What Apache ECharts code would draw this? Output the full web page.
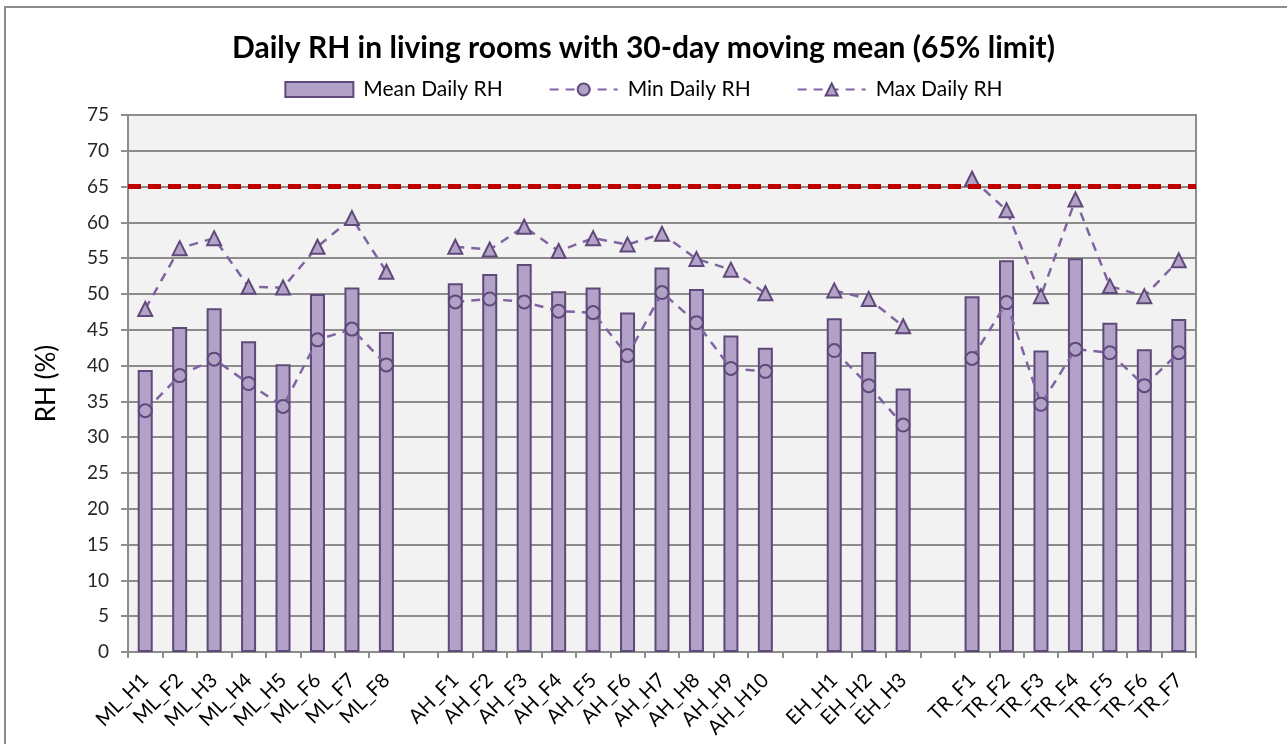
<!DOCTYPE html>
<html>
<head>
<meta charset="utf-8">
<script src="https://cdn.jsdelivr.net/npm/echarts@6/dist/echarts.min.js"></script>
<style>
  html, body { margin: 0; padding: 0; background: #fff; }
  #chart { width: 1287px; height: 744px; }
</style>
</head>
<body>
<div id="chart"></div>
<script>
// Daily RH per living room, grouped by site; blank categories separate groups.
const CATEGORIES = [
  "ML_H1", "ML_F2", "ML_H3", "ML_H4", "ML_H5", "ML_F6", "ML_F7", "ML_F8", "",
  "AH_F1", "AH_F2", "AH_F3", "AH_F4", "AH_F5", "AH_F6", "AH_H7", "AH_H8", "AH_H9", "AH_H10", "",
  "EH_H1", "EH_H2", "EH_H3", "",
  "TR_F1", "TR_F2", "TR_F3", "TR_F4", "TR_F5", "TR_F6", "TR_F7",
];

const MEAN_RH = [
  39.4, 45.4, 48.0, 43.4, 40.2, 50.0, 50.9, 44.7, "-",
  51.5, 52.8, 54.2, 50.4, 50.9, 47.4, 53.7, 50.7, 44.2, 42.5, "-",
  46.6, 41.9, 36.8, "-",
  49.7, 54.7, 42.1, 55.0, 46.0, 42.3, 46.5,
];

const MIN_RH = [
  33.7, 38.6, 40.9, 37.5, 34.3, 43.6, 45.1, 40.1, "-",
  48.9, 49.3, 48.9, 47.6, 47.4, 41.4, 50.2, 46.0, 39.6, 39.2, "-",
  42.1, 37.2, 31.7, "-",
  41.0, 48.8, 34.6, 42.3, 41.8, 37.2, 41.8,
];

const MAX_RH = [
  47.9, 56.4, 57.8, 51.0, 50.9, 56.6, 60.6, 53.1, "-",
  56.6, 56.2, 59.4, 56.0, 57.8, 56.9, 58.4, 54.9, 53.4, 50.1, "-",
  50.5, 49.3, 45.5, "-",
  66.1, 61.7, 49.7, 63.2, 51.1, 49.7, 54.7,
];

const LIMIT = 65;

const FONT = "Lato, 'Open Sans', sans-serif";
const BAR_FILL = "#b3a2c7";
const MARK_EDGE = "#5f497a";
const LINE_COLOR = "#8064a2";
const FRAME = "#8c8c8c";

const chart = echarts.init(document.getElementById("chart"), null, { renderer: "canvas" });

chart.setOption({
  animation: false,
  backgroundColor: "#ffffff",
  textStyle: { fontFamily: FONT, color: "#404040" },
  title: {
    text: "Daily RH in living rooms with 30-day moving mean (65% limit)",
    left: "center",
    top: 28,
    textStyle: { fontFamily: FONT, fontSize: 30, fontWeight: "bold", color: "#000" },
  },
  legend: {
    top: 74,
    left: "center",
    itemGap: 46,
    itemWidth: 68,
    itemHeight: 15,
    textStyle: { fontFamily: FONT, fontSize: 21, color: "#000", padding: [0, 0, 0, 5] },
    data: [
      { name: "Mean Daily RH", icon: "rect" },
      { name: "Min Daily RH" },
      { name: "Max Daily RH" },
    ],
  },
  // chart frame: only the top and left edges are visible in the picture
  graphic: [
    {
      type: "polyline",
      silent: true,
      shape: { points: [[5, 744], [5, 7], [1287, 7]] },
      style: { stroke: FRAME, lineWidth: 2, fill: null },
    },
  ],
  grid: {
    left: 128,
    right: 91,
    top: 115,
    bottom: 92,
    show: true,
    backgroundColor: "#f2f2f2",
    borderColor: FRAME,
    borderWidth: 2,
  },
  xAxis: {
    type: "category",
    data: CATEGORIES,
    axisLine: { lineStyle: { color: FRAME, width: 2 } },
    axisTick: { show: true, interval: 0, length: 6, lineStyle: { color: FRAME, width: 2 } },
    axisLabel: {
      interval: 0,
      rotate: 45,
      fontFamily: FONT,
      fontSize: 20,
      color: "#000",
      margin: 25,
    },
  },
  yAxis: {
    type: "value",
    min: 0,
    max: 75,
    interval: 5,
    name: "RH (%)",
    nameLocation: "middle",
    nameGap: 68,
    nameTextStyle: { fontFamily: FONT, fontSize: 26, color: "#000" },
    axisLine: { show: true, lineStyle: { color: FRAME, width: 2 } },
    axisTick: { show: true, length: 7, lineStyle: { color: FRAME, width: 2 } },
    axisLabel: { fontFamily: FONT, fontSize: 19, color: "#262626", margin: 19 },
    splitLine: { lineStyle: { color: FRAME, width: 2 } },
  },
  series: [
    {
      name: "Mean Daily RH",
      type: "bar",
      data: MEAN_RH,
      barWidth: 15,
      itemStyle: { color: BAR_FILL, borderColor: MARK_EDGE, borderWidth: 2 },
      markLine: {
        silent: true,
        symbol: "none",
        label: { show: false },
        lineStyle: { color: "#c00000", width: 5, type: [13, 7] },
        data: [{ yAxis: LIMIT }],
      },
      z: 2,
    },
    {
      name: "Min Daily RH",
      type: "line",
      data: MIN_RH,
      connectNulls: false,
      symbol: "circle",
      symbolSize: 13,
      lineStyle: { color: LINE_COLOR, width: 2.5, type: [9, 7] },
      itemStyle: { color: BAR_FILL, borderColor: MARK_EDGE, borderWidth: 2 },
      z: 3,
    },
    {
      name: "Max Daily RH",
      type: "line",
      data: MAX_RH,
      connectNulls: false,
      symbol: "triangle",
      symbolSize: 14,
      lineStyle: { color: LINE_COLOR, width: 2.5, type: [9, 7] },
      itemStyle: { color: BAR_FILL, borderColor: MARK_EDGE, borderWidth: 2 },
      z: 3,
    },
  ],
});
</script>
</body>
</html>
